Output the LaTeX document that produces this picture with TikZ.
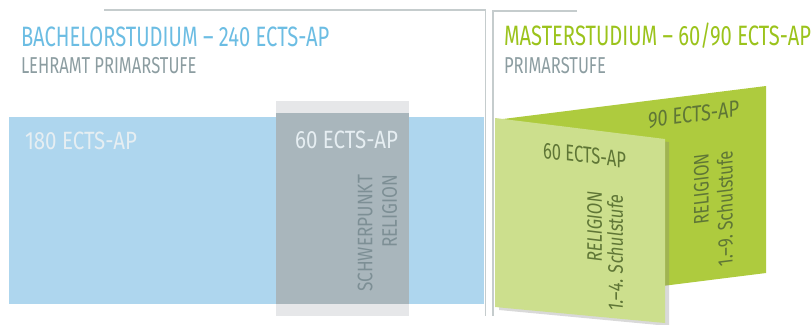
\documentclass[tikz,border=0pt]{standalone}
\usepackage{fontspec}
\setmainfont{Fira Sans}[FakeStretch=0.72]
\newfontfamily\widecond{Fira Sans}[FakeStretch=0.82]
\newfontfamily\midcond{Fira Sans}[FakeStretch=0.79]
\usetikzlibrary{shadows}

\definecolor{bachblue}{HTML}{6CBDE3}
\definecolor{boxblue}{HTML}{AED6EE}
\definecolor{subgray}{HTML}{8C9DA1}
\definecolor{palegray}{HTML}{E6E7E9}
\definecolor{slategray}{HTML}{A9B6BC}
\definecolor{slatetext}{HTML}{7D8F95}
\definecolor{frosttext}{HTML}{E6EEF2}
\definecolor{mastgreen}{HTML}{9BC31C}
\definecolor{deepgreen}{HTML}{AECB3E}
\definecolor{palegreen}{HTML}{CCDF8D}
\definecolor{olivetext}{HTML}{5F7636}
\definecolor{rulegray}{HTML}{C5CCCD}

\begin{document}
\begin{tikzpicture}[x=1pt,y=-1pt,
    lbl/.style={inner sep=0pt, outer sep=0pt},
    rulestroke/.style={draw=rulegray, line width=1.2pt}]
    \useasboundingbox (0,0) rectangle (811,324);

    % frame rules
    \coordinate (bachA) at (104,10);
    \coordinate (bachB) at (485.5,10);
    \coordinate (bachC) at (485.5,316);
    \coordinate (mastA) at (577,11);
    \coordinate (mastB) at (493,11);
    \coordinate (mastC) at (493,316);
    \draw[rulestroke] (bachA) -- (bachB) -- (bachC);
    \draw[rulestroke] (mastA) -- (mastB) -- (mastC);

    % bachelor
    \fill[boxblue] (9,117) rectangle (484,304);
    \fill[palegray] (276,101) rectangle (409,316);
    \fill[slategray] (276,113) rectangle (409,304);

    \node[lbl, anchor=base west, text=bachblue, font=\fontsize{28}{28}\selectfont] (bachtitle) at (21,46) {BACHELORSTUDIUM – 240 ECTS-AP};
    \node[lbl, anchor=base west, text=subgray, font=\fontsize{23}{23}\selectfont] (bachsub) at (21,73) {LEHRAMT PRIMARSTUFE};
    \node[lbl, anchor=base west, text=frosttext, font=\widecond\fontsize{25}{25}\selectfont] (bachbase) at (25,149) {180 ECTS-AP};
    \node[lbl, anchor=base east, text=frosttext, font=\widecond\fontsize{25}{25}\selectfont] (bachfocus) at (398,148) {60 ECTS-AP};
    \node[lbl, anchor=south east, rotate=90, align=right, text=slatetext, font=\widecond\fontsize{21}{24.5}\selectfont] (focustext) at (397,175) {SCHWERPUNKT\\RELIGION};

    % master
    \node[lbl, anchor=base west, text=mastgreen, font=\fontsize{28}{28}\selectfont] (masttitle) at (504,45) {MASTERSTUDIUM – 60/90 ECTS-AP};
    \node[lbl, anchor=base west, text=subgray, font=\fontsize{23}{23}\selectfont] (mastsub) at (504,73) {PRIMARSTUFE};

    \fill[deepgreen] (503,119) -- (766,86) -- (766,273) -- (503,306) -- cycle;
    \fill[palegreen, drop shadow={shadow xshift=4pt, shadow yshift=-3pt, opacity=.3}] (495,118) -- (665,139) -- (665,323) -- (495,307) -- cycle;

    \node[lbl, anchor=base west, yslant=.125, text=olivetext, font=\midcond\fontsize{23}{23}\selectfont] (longects) at (648,128) {90 ECTS-AP};
    \node[lbl, anchor=south east, rotate=90, xslant=-.125, align=right, text=olivetext, font=\midcond\fontsize{21}{24}\selectfont] (longtext) at (733,150) {RELIGION\\1.–9. Schulstufe};
    \node[lbl, anchor=base west, yslant=-.123, text=olivetext, font=\fontsize{23}{23}\selectfont] (shortects) at (543,158) {60 ECTS-AP};
    \node[lbl, anchor=south east, rotate=90, xslant=.12, align=right, text=olivetext, font=\midcond\fontsize{21}{21}\selectfont] (shorttext) at (623,195) {RELIGION\\1.–4. Schulstufe};
\end{tikzpicture}
\end{document}
